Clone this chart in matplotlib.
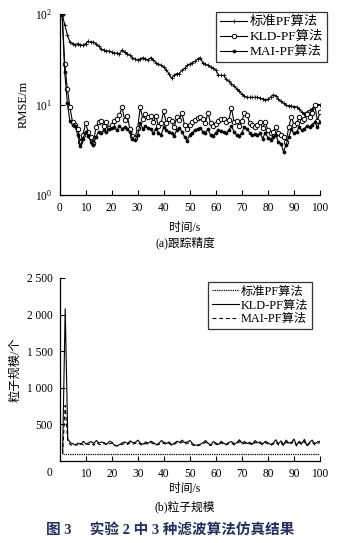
import numpy as np
import matplotlib
matplotlib.use("Agg")
import matplotlib.pyplot as plt

plt.rcParams['font.family'] = ['Liberation Serif', 'Noto Sans CJK SC', 'DejaVu Sans']
plt.rcParams['mathtext.fontset'] = 'stix'
plt.rcParams['axes.unicode_minus'] = False

# time steps (s)
t = np.arange(1, 101)

# (a) tracking accuracy, RMSE in metres
rmse_std = [100, 76, 59, 49, 47, 46, 47, 46, 45, 47,
            50, 49, 49, 47, 44, 41, 40, 39, 39, 38,
            37, 37, 36, 40, 38, 36, 35, 33, 32, 31,
            32, 33, 32, 31, 33, 31, 29, 28, 27, 26,
            24, 22, 19.5, 21, 22, 22, 24, 25, 27, 28,
            29, 30, 32, 33, 29, 28, 27, 26, 25, 24,
            21, 21, 21, 19, 18, 17, 16, 15, 14, 13,
            12.3, 12, 12, 12, 12, 12, 11.8, 11.5, 11.3, 11.5,
            12, 12.8, 12.5, 11.5, 10.8, 10.3, 9.8, 9.7, 9.6, 9.5,
            9.4, 9.0, 8.2, 7.8, 8.3, 8.6, 9.0, 9.6, 10, 10]
rmse_kld = [100, 28, 15, 9.3, 6.4, 6.0, 5.4, 3.9, 4.6, 6.2,
            5.0, 4.4, 3.8, 5.6, 6.4, 6.6, 5.8, 6.4, 5.5, 6.0,
            6.6, 7.0, 7.6, 9.3, 6.8, 7.5, 5.4, 4.5, 4.3, 5.5,
            9.3, 6.9, 7.8, 7.3, 7.5, 6.4, 7.5, 5.8, 6.3, 8.4,
            6.2, 7.0, 6.5, 5.6, 7.2, 6.8, 8.1, 5.9, 5.3, 6.0,
            6.4, 6.8, 7.1, 7.2, 6.9, 6.3, 8.1, 6.2, 5.8, 6.1,
            6.5, 7.0, 7.0, 6.4, 6.8, 9.1, 6.4, 6.6, 5.8, 6.5,
            8.1, 7.7, 6.2, 6.0, 5.7, 6.0, 6.4, 5.5, 6.4, 5.2,
            4.9, 5.0, 5.6, 4.8, 4.6, 4.4, 3.9, 5.6, 7.3, 6.0,
            6.2, 7.2, 6.5, 7.0, 7.9, 7.2, 8.0, 9.8, 6.6, 8.2]
rmse_mai = [100, 23, 10.5, 6.5, 6.0, 5.8, 4.6, 3.5, 4.2, 5.0,
            4.5, 3.9, 3.6, 4.4, 5.0, 4.8, 5.2, 5.0, 5.3, 5.5,
            5.6, 5.2, 5.8, 5.4, 5.6, 5.3, 5.0, 4.2, 4.1, 4.6,
            6.2, 5.4, 5.8, 5.5, 5.3, 4.8, 5.4, 4.9, 4.6, 5.6,
            5.2, 5.0, 4.8, 4.5, 5.2, 5.5, 5.0, 4.4, 4.0, 4.6,
            4.9, 5.2, 5.4, 5.5, 5.0, 4.9, 5.3, 4.6, 4.5, 4.9,
            5.2, 5.1, 5.0, 4.8, 5.2, 5.8, 5.0, 4.6, 4.5, 4.9,
            5.6, 5.4, 4.9, 4.6, 4.7, 4.6, 4.8, 4.2, 4.9, 4.3,
            4.1, 4.4, 4.6, 3.9, 3.7, 3.0, 3.6, 4.4, 5.3, 4.8,
            5.0, 5.6, 5.2, 5.4, 5.8, 5.6, 6.0, 6.4, 5.6, 6.4]

# (b) particle count
n_std = [100] * 100
n_kld = [100, 2080, 300, 250, 235, 215, 245, 225, 270, 230,
         250, 265, 240, 280, 245, 260, 250, 230, 270, 255,
         215, 210, 225, 250, 260, 240, 275, 250, 255, 285,
         240, 230, 260, 245, 270, 250, 225, 240, 280, 255,
         240, 260, 220, 245, 270, 255, 285, 250, 260, 280,
         235, 215, 220, 230, 250, 280, 240, 220, 265, 245,
         225, 270, 240, 230, 255, 265, 235, 250, 290, 245,
         265, 240, 255, 230, 280, 250, 260, 235, 270, 250,
         225, 245, 290, 235, 275, 220, 285, 245, 255, 300,
         215, 270, 240, 295, 210, 255, 285, 235, 260, 270]
n_mai = [100, 760, 260, 225, 210, 230, 215, 240, 220, 235,
         225, 245, 215, 250, 230, 220, 240, 215, 235, 245,
         210, 205, 215, 230, 240, 225, 250, 230, 240, 255,
         225, 215, 240, 230, 250, 235, 215, 225, 255, 240,
         225, 240, 210, 230, 250, 240, 260, 230, 240, 255,
         220, 205, 210, 220, 235, 255, 225, 210, 245, 230,
         215, 250, 225, 220, 240, 245, 220, 235, 265, 230,
         245, 225, 240, 215, 255, 235, 240, 220, 250, 235,
         215, 230, 260, 220, 250, 210, 260, 230, 240, 270,
         205, 250, 225, 265, 205, 240, 260, 220, 240, 250]

W, H = 341, 543
fig = plt.figure(figsize=(W / 100, H / 100), dpi=100)


def box(x0, y0, x1, y1):
    # pixel box -> figure fraction rect
    return [x0 / W, 1 - y1 / H, (x1 - x0) / W, (y1 - y0) / H]


def style_axes(ax):
    for s in ('top', 'right'):
        ax.spines[s].set_visible(False)
    for s in ('left', 'bottom'):
        ax.spines[s].set_linewidth(0.9)
    ax.tick_params(direction='in', length=3.5, width=0.8, labelsize=8.3, pad=5)
    ax.tick_params(which='minor', length=0)


def frame(leg):
    leg.get_frame().set_edgecolor('k')
    leg.get_frame().set_linewidth(0.9)


# ---- (a) RMSE ----
ax1 = fig.add_axes(box(59.5, 14, 320, 195))
ax1.plot(t, rmse_std, color='k', lw=0.8, marker='+', ms=3.5, mew=0.6, label='标准PF算法')
ax1.plot(t, rmse_kld, color='k', lw=0.8, marker='o', ms=3.2, mew=0.7, mfc='white', label='KLD-PF算法')
ax1.plot(t, rmse_mai, color='k', lw=0.8, marker='o', ms=2.2, mew=0.5, label='MAI-PF算法')
ax1.set_yscale('log')
ax1.set_ylim(1, 100)
ax1.set_xlim(0, 100)
ax1.set_xticks(np.arange(0, 101, 10))
ax1.set_yticks([1, 10, 100])
ax1.yaxis.set_minor_locator(matplotlib.ticker.NullLocator())
style_axes(ax1)
ax1.set_ylabel('RMSE/m', fontsize=9, labelpad=4)
leg1 = ax1.legend(loc='upper right', bbox_to_anchor=(327 / W, 1 - 12 / H),
                  bbox_transform=fig.transFigure, fontsize=9.6, frameon=True,
                  fancybox=False, handlelength=2.0, handletextpad=0.2,
                  borderpad=0.3, labelspacing=0.2, borderaxespad=0)
frame(leg1)

fig.text(185 / W, 1 - 228 / H, '时间/s', ha='center', va='center', fontsize=8.5)
fig.text(185 / W, 1 - 243 / H, '(a)跟踪精度', ha='center', va='center', fontsize=8.5)

# ---- (b) particle count ----
ax2 = fig.add_axes(box(60, 278, 320, 461))
ax2.plot(t, n_std, color='k', lw=0.9, ls=(0, (1, 0.8)), label='标准PF算法')
ax2.plot(t, n_kld, color='k', lw=0.8, label='KLD-PF算法')
ax2.plot(t, n_mai, color='k', lw=0.8, ls=(0, (3.5, 2.5)), label='MAI-PF算法')
ax2.set_xlim(0, 100)
ax2.set_ylim(0, 2500)
ax2.set_xticks(np.arange(0, 101, 10))
ax2.set_xticklabels([''] + [str(v) for v in range(10, 101, 10)])
ax2.set_yticks([500, 1000, 1500, 2000, 2500])
ax2.set_yticklabels(['500', '1 000', '1 500', '2 000', '2 500'])
style_axes(ax2)
ax2.set_ylabel('粒子规模/个', fontsize=8.8, labelpad=4)
ax2.text(-0.04, -0.035, '0', transform=ax2.transAxes, ha='center', va='top', fontsize=8.3)
leg2 = ax2.legend(loc='upper right', bbox_to_anchor=(312 / W, 1 - 282 / H),
                  bbox_transform=fig.transFigure, fontsize=8.8, frameon=True,
                  fancybox=False, handlelength=2.2, handletextpad=0.15,
                  borderpad=0.3, labelspacing=0.15, borderaxespad=0)
frame(leg2)

fig.text(185 / W, 1 - 489 / H, '时间/s', ha='center', va='center', fontsize=8.5)
fig.text(185 / W, 1 - 507 / H, '(b)粒子规模', ha='center', va='center', fontsize=8.5)

fig.text(170 / W, 1 - 530 / H, '图 3　 实验 2 中 3 种滤波算法仿真结果', ha='center', va='center',
         fontsize=10.5, fontweight='bold', color='#233060')

fig.savefig('out.png', dpi=100)
